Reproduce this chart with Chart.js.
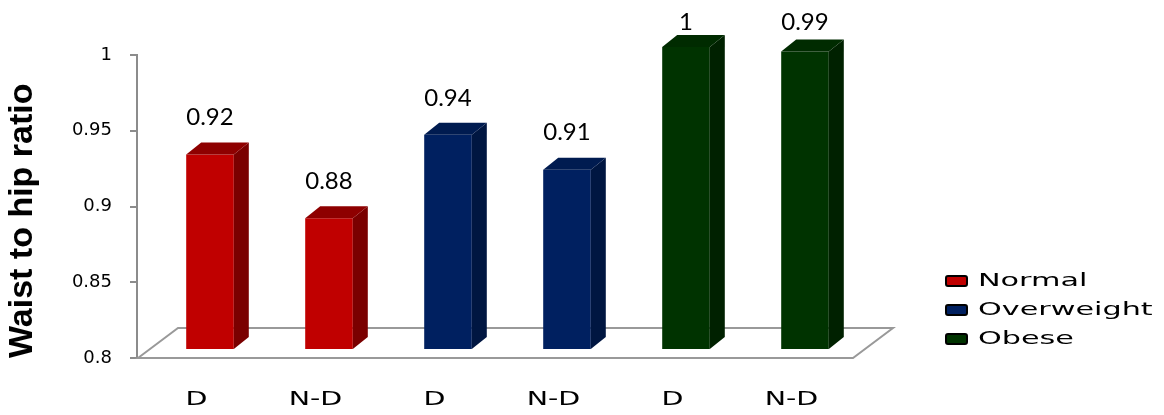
<!DOCTYPE html>
<html>
<head>
<meta charset="utf-8">
<script src="https://cdn.jsdelivr.net/npm/chart.js@4/dist/chart.umd.min.js"></script>
<style>
  html, body { margin: 0; padding: 0; background: #fff; }
</style>
</head>
<body>
<canvas id="myChart" width="1164" height="415"></canvas>
<script>
const categories = ["D", "N-D", "D", "N-D", "D", "N-D"];
const seriesNames = ["Normal", "Overweight", "Obese"];
const normalValues = [0.929, 0.887, null, null, null, null];
const overweightValues = [null, null, 0.942, 0.919, null, null];
const obeseValues = [null, null, null, null, 1.0, 0.997];
const yTicks = [0.8, 0.85, 0.9, 0.95, 1];

const frontColors = ["#C00000", "#002060", "#003300"];
const sideColors = ["#7A0000", "#001641", "#002100"];
const topColors = ["#8E0000", "#001B50", "#002B00"];

// fake 3d: bars sit a bit back on the floor
const SHIFT_X = 13.5, SHIFT_Y = 8;
const DEPTH_X = 15, DEPTH_Y = 12;
const FLOOR_X = 40, FLOOR_Y = 30;

function poly(ctx, pts) {
    ctx.beginPath();
    ctx.moveTo(pts[0][0], pts[0][1]);
    for (let i = 1; i < pts.length; i++) ctx.lineTo(pts[i][0], pts[i][1]);
    ctx.closePath();
}

const floor3d = {
    id: "floor3d",
    beforeDatasetsDraw(chart) {
        const ctx = chart.ctx;
        const { left, right, bottom } = chart.chartArea;
        ctx.save();
        ctx.strokeStyle = "#999999";
        ctx.lineWidth = 2;
        poly(ctx, [
            [left + 1, bottom],
            [left + 1 + FLOOR_X, bottom - FLOOR_Y],
            [right + 2 + FLOOR_X, bottom - FLOOR_Y],
            [right + 2, bottom],
        ]);
        ctx.stroke();
        ctx.restore();

        ctx.save();
        ctx.translate(SHIFT_X, -SHIFT_Y);
    },
    afterDatasetsDraw(chart) {
        const ctx = chart.ctx;
        chart.data.datasets.forEach((ds, di) => {
            const meta = chart.getDatasetMeta(di);
            meta.data.forEach((bar, i) => {
                if (ds.data[i] == null) return;
                const { x, y, base, width } = bar.getProps(["x", "y", "base", "width"], true);
                const l = x - width / 2, r = x + width / 2;
                ctx.fillStyle = sideColors[di];
                poly(ctx, [[r, y], [r + DEPTH_X, y - DEPTH_Y], [r + DEPTH_X, base - DEPTH_Y], [r, base]]);
                ctx.fill();
                ctx.fillStyle = topColors[di];
                poly(ctx, [[l, y], [l + DEPTH_X, y - DEPTH_Y], [r + DEPTH_X, y - DEPTH_Y], [r, y]]);
                ctx.fill();

                // value label, kept inside the canvas at the top
                ctx.fillStyle = "#000";
                ctx.font = "24px Lato";
                ctx.textAlign = "center";
                ctx.textBaseline = "middle";
                const txt = String(Math.floor(ds.data[i] * 100 + 1e-6) / 100);
                ctx.fillText(txt, x, Math.max(y - 37, 30));
            });
        });
        ctx.restore();
    },
    afterDraw(chart) {
        const ctx = chart.ctx;
        const xs = chart.scales.x;
        ctx.save();
        ctx.fillStyle = "#000";
        ctx.textBaseline = "middle";

        // category labels (stretched wide like the original)
        ctx.font = '19px "DejaVu Sans"';
        ctx.textAlign = "center";
        categories.forEach((c, i) => {
            ctx.save();
            ctx.translate(xs.getPixelForValue(i), 400);
            ctx.scale(1.5, 1);
            ctx.fillText(c, 0, 0);
            ctx.restore();
        });

        // legend
        ctx.font = '18px "DejaVu Sans"';
        ctx.textAlign = "left";
        chart.data.datasets.forEach((ds, i) => {
            const cy = 281 + i * 29;
            ctx.beginPath();
            ctx.roundRect(946, cy - 5, 21, 10, 2);
            ctx.fillStyle = frontColors[i];
            ctx.fill();
            ctx.strokeStyle = "#000";
            ctx.lineWidth = 2;
            ctx.stroke();
            ctx.fillStyle = "#000";
            ctx.save();
            ctx.translate(978, cy);
            ctx.scale(1.68, 1);
            ctx.fillText(ds.label, 0, 0);
            ctx.restore();
        });
        ctx.restore();
    },
};

const ctx = document.getElementById("myChart");

new Chart(ctx, {
    type: "bar",
    data: {
        labels: categories,
        datasets: [normalValues, overweightValues, obeseValues].map((vals, i) => ({
            label: seriesNames[i],
            data: vals,
            base: 0.8,
            backgroundColor: frontColors[i],
            borderWidth: 0,
            grouped: false,
            categoryPercentage: 1,
            barPercentage: 0.4,
            clip: false,
        })),
    },
    options: {
        responsive: false,
        animation: false,
        layout: { padding: { left: 0, top: 55, right: 313, bottom: 57 } },
        scales: {
            x: { display: false },
            y: {
                min: 0.8,
                max: 1,
                afterFit: (s) => { s.width = 137; },
                afterBuildTicks: (s) => { s.ticks = yTicks.map((v) => ({ value: v })); },
                ticks: {
                    color: "#000",
                    padding: 18,
                    font: { family: "DejaVu Sans", size: 18 },
                    callback: (v) => String(+Number(v).toFixed(2)),
                },
                grid: { drawOnChartArea: false, drawTicks: true, tickLength: 7, color: "#8c8c8c", lineWidth: 2 },
                border: { color: "#8c8c8c", width: 2 },
                title: {
                    display: true,
                    text: "Waist to hip ratio",
                    align: "start",
                    color: "#000",
                    font: { family: "Liberation Sans", size: 34, weight: "bold" },
                    padding: { top: 2, bottom: 0 },
                },
            },
        },
        plugins: {
            legend: { display: false },
            tooltip: { enabled: false },
        },
    },
    plugins: [floor3d],
});
</script>
</body>
</html>
